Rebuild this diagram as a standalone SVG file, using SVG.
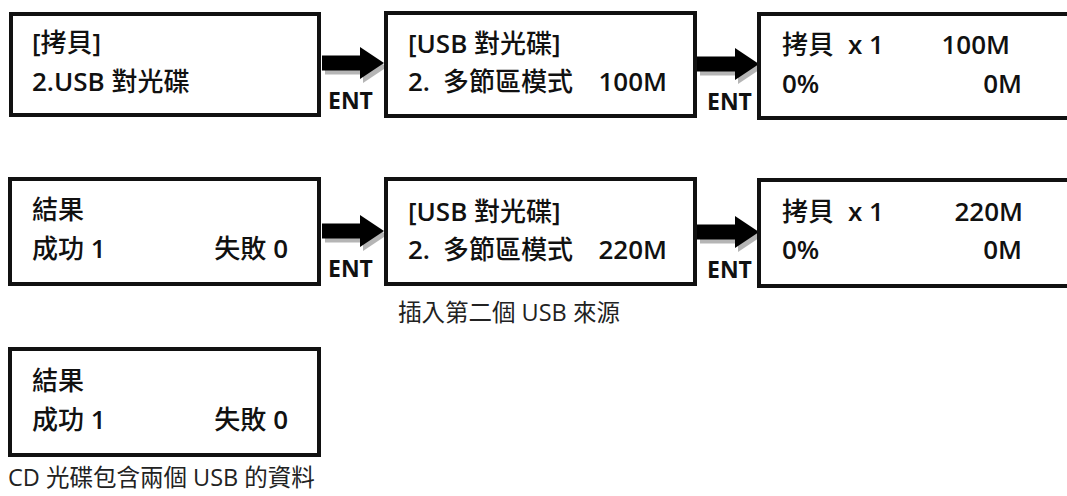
<svg xmlns="http://www.w3.org/2000/svg" xmlns:xlink="http://www.w3.org/1999/xlink" width="1067" height="496" viewBox="0 0 1067 496">
<style>
.box{fill:#fff;stroke:#111;stroke-width:4}
.t{font-family:"Noto Sans CJK TC",sans-serif;font-size:26px;font-weight:500;fill:#111}
.l{font-family:"Open Sans","Noto Sans",sans-serif;font-weight:600}
.r{text-anchor:end}
.cap{font-family:"Open Sans","Noto Sans CJK TC",sans-serif;font-size:23.5px;font-weight:400;fill:#222}
.ent{font-family:"Open Sans","Noto Sans",sans-serif;font-size:23px;font-weight:700;fill:#111}
.ar{fill:#000}
.sh{fill:#b5b5b5}
</style>
<defs>
<path id="arr" d="M0,-7.5 H38 V-16 L62,0 L38,16 V7.5 H0 Z"/>
</defs>
<rect width="1067" height="496" fill="#fff"/>
<g id="connectors">
<g transform="translate(322,63)"><use xlink:href="#arr" class="sh" transform="translate(3,4)"/><use xlink:href="#arr" class="ar"/></g>
<text class="ent" x="328" y="109">ENT</text>
<g transform="translate(697,64)"><use xlink:href="#arr" class="sh" transform="translate(3,4)"/><use xlink:href="#arr" class="ar"/></g>
<text class="ent" x="707" y="110">ENT</text>
<g transform="translate(322,231)"><use xlink:href="#arr" class="sh" transform="translate(3,4)"/><use xlink:href="#arr" class="ar"/></g>
<text class="ent" x="328" y="277">ENT</text>
<g transform="translate(697,232)"><use xlink:href="#arr" class="sh" transform="translate(3,4)"/><use xlink:href="#arr" class="ar"/></g>
<text class="ent" x="707" y="278">ENT</text>
</g>
<g id="n1">
<rect class="box" x="11" y="14" width="308" height="101"/>
<text class="t" x="32" y="52"><tspan class="l">[</tspan>拷貝<tspan class="l">]</tspan></text>
<text class="t" x="32" y="91"><tspan class="l">2.USB </tspan>對光碟</text>
</g>
<g id="n2">
<rect class="box" x="386" y="13" width="309" height="103"/>
<text class="t" x="408" y="53"><tspan class="l">[USB </tspan>對光碟<tspan class="l">]</tspan></text>
<text class="t" y="91"><tspan class="l" x="408">2.</tspan><tspan x="443">多節區模式</tspan></text>
<text class="t r" x="667" y="91"><tspan class="l">100M</tspan></text>
</g>
<g id="n3">
<rect class="box" x="759" y="14" width="320" height="104"/>
<text class="t" y="54"><tspan x="782">拷貝</tspan><tspan class="l" x="848">x 1</tspan></text>
<text class="t r" x="1010" y="54"><tspan class="l">100M</tspan></text>
<text class="t" x="782" y="93"><tspan class="l">0%</tspan></text>
<text class="t r" x="1022" y="93"><tspan class="l">0M</tspan></text>
</g>
<g id="n4">
<rect class="box" x="10" y="179" width="309" height="105"/>
<text class="t" x="32" y="219">結果</text>
<text class="t" x="32" y="258">成功<tspan class="l"> 1</tspan></text>
<text class="t r" x="288" y="258">失敗<tspan class="l"> 0</tspan></text>
</g>
<g id="n5">
<rect class="box" x="386" y="179" width="309" height="105"/>
<text class="t" x="408" y="221"><tspan class="l">[USB </tspan>對光碟<tspan class="l">]</tspan></text>
<text class="t" y="259"><tspan class="l" x="408">2.</tspan><tspan x="443">多節區模式</tspan></text>
<text class="t r" x="667" y="259"><tspan class="l">220M</tspan></text>
</g>
<g id="n6">
<rect class="box" x="759" y="180" width="320" height="106"/>
<text class="t" y="221"><tspan x="782">拷貝</tspan><tspan class="l" x="848">x 1</tspan></text>
<text class="t r" x="1023" y="221"><tspan class="l">220M</tspan></text>
<text class="t" x="782" y="259"><tspan class="l">0%</tspan></text>
<text class="t r" x="1022" y="259"><tspan class="l">0M</tspan></text>
</g>
<text class="cap" x="398" y="321">插入第二個 USB 來源</text>
<g id="n7">
<rect class="box" x="10" y="349" width="309" height="106"/>
<text class="t" x="32" y="390">結果</text>
<text class="t" x="32" y="429">成功<tspan class="l"> 1</tspan></text>
<text class="t r" x="288" y="429">失敗<tspan class="l"> 0</tspan></text>
</g>
<text class="cap" x="8" y="486">CD 光碟包含兩個 USB 的資料</text>
</svg>
